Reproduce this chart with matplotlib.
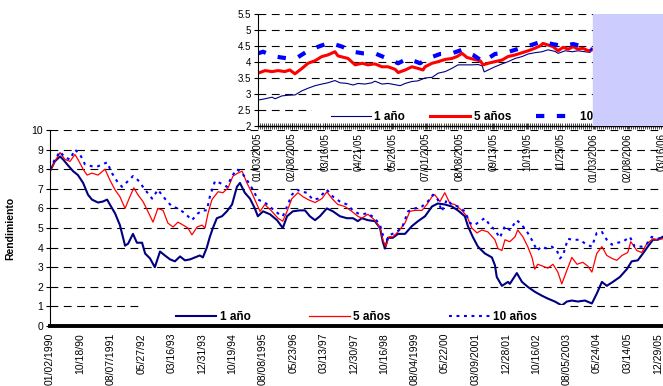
import numpy as np
import matplotlib
matplotlib.use('Agg')
import matplotlib.pyplot as plt
from matplotlib.path import Path
from matplotlib.ticker import MultipleLocator, FormatStrFormatter

plt.rcParams['font.family'] = ['Liberation Sans', 'DejaVu Sans']

# ---- main chart: x in tick-interval units (0 = 01/02/1990, 20 = 12/29/05)
main_ticks = ['01/02/1990', '10/18/90', '08/07/1991', '05/27/92', '03/16/93', '12/31/93',
              '10/19/94', '08/08/1995', '05/23/96', '03/13/97', '12/30/97', '10/16/98',
              '08/04/1999', '05/22/00', '03/09/2001', '12/28/01', '10/16/02', '08/05/2003',
              '05/24/04', '03/14/05', '12/29/05']

x_1y = [0.00, 0.16, 0.33, 0.43, 0.59, 0.76, 0.92, 1.09, 1.25, 1.38,
        1.58, 1.74, 1.88, 1.97, 2.14, 2.30, 2.47, 2.57, 2.73, 2.86,
        3.03, 3.13, 3.29, 3.45, 3.62, 3.78, 3.95, 4.11, 4.28, 4.44,
        4.61, 4.77, 4.93, 5.03, 5.16, 5.26, 5.36, 5.49, 5.66, 5.82,
        5.99, 6.15, 6.25, 6.41, 6.58, 6.74, 6.84, 7.01, 7.24, 7.47,
        7.66, 7.80, 7.99, 8.22, 8.39, 8.55, 8.72, 8.88, 9.11, 9.31,
        9.54, 9.77, 9.97, 10.13, 10.26, 10.46, 10.69, 10.86, 10.95, 11.02,
        11.12, 11.28, 11.45, 11.68, 11.91, 12.11, 12.34, 12.57, 12.76, 12.99,
        13.22, 13.42, 13.65, 13.75, 13.91, 14.08, 14.31, 14.54, 14.64, 14.70,
        14.87, 15.07, 15.13, 15.36, 15.53, 15.72, 15.95, 16.18, 16.38, 16.61,
        16.84, 17.01, 17.17, 17.37, 17.60, 17.83, 17.99, 18.16, 18.32, 18.52,
        18.75, 18.98, 19.14, 19.34, 19.51, 19.67, 19.84, 20.00, 20.16]
y_1y = [7.9, 8.4, 8.65, 8.5, 8.2, 7.9, 7.7, 7.3, 6.7, 6.45,
        6.3, 6.35, 6.45, 6.2, 5.75, 5.15, 4.1, 4.2, 4.7, 4.25,
        4.25, 3.7, 3.45, 3.0, 3.8, 3.6, 3.4, 3.3, 3.55, 3.35,
        3.4, 3.5, 3.6, 3.5, 4.0, 4.55, 5.0, 5.5, 5.6, 5.85,
        6.2, 7.1, 7.3, 6.8, 6.5, 6.0, 5.6, 5.85, 5.7, 5.4,
        5.0, 5.6, 5.85, 5.9, 5.9, 5.6, 5.4, 5.6, 6.0, 5.85,
        5.6, 5.5, 5.5, 5.35, 5.5, 5.4, 5.35, 5.0, 4.3, 3.95,
        4.5, 4.5, 4.7, 4.7, 5.1, 5.35, 5.6, 6.1, 6.25, 6.2,
        6.1, 5.9, 5.6, 5.1, 4.55, 4.05, 3.7, 3.5, 3.1, 2.5,
        2.05, 2.25, 2.15, 2.7, 2.25, 2.0, 1.75, 1.55, 1.4, 1.25,
        1.05, 1.25, 1.3, 1.25, 1.3, 1.15, 1.65, 2.25, 2.05, 2.25,
        2.5, 2.9, 3.3, 3.35, 3.7, 4.05, 4.4, 4.4, 4.55]

x_5y = [0.00, 0.16, 0.33, 0.49, 0.66, 0.82, 0.92, 1.09, 1.22, 1.38,
        1.58, 1.81, 1.97, 2.14, 2.30, 2.47, 2.63, 2.76, 2.89, 3.06,
        3.22, 3.39, 3.55, 3.72, 3.88, 4.05, 4.21, 4.38, 4.54, 4.67,
        4.84, 5.00, 5.10, 5.20, 5.33, 5.53, 5.69, 5.86, 6.02, 6.18,
        6.32, 6.48, 6.64, 6.81, 6.91, 7.07, 7.30, 7.50, 7.66, 7.80,
        7.96, 8.16, 8.32, 8.49, 8.72, 8.95, 9.11, 9.28, 9.47, 9.70,
        9.93, 10.13, 10.26, 10.46, 10.69, 10.86, 10.95, 11.05, 11.15, 11.28,
        11.45, 11.68, 11.84, 12.01, 12.24, 12.40, 12.57, 12.66, 12.83, 12.99,
        13.16, 13.32, 13.55, 13.72, 13.88, 14.05, 14.21, 14.41, 14.64, 14.74,
        14.87, 14.97, 15.13, 15.30, 15.39, 15.56, 15.72, 15.86, 15.95, 16.05,
        16.22, 16.38, 16.55, 16.71, 16.84, 17.01, 17.17, 17.34, 17.53, 17.70,
        17.83, 17.99, 18.16, 18.32, 18.49, 18.65, 18.82, 19.01, 19.11, 19.31,
        19.47, 19.64, 19.84, 20.00, 20.16]
y_5y = [7.9, 8.4, 8.85, 8.5, 8.4, 8.75, 8.5, 8.0, 7.7, 7.8,
        7.7, 8.0, 7.45, 6.95, 6.6, 6.0, 6.6, 7.05, 6.7, 6.35,
        5.85, 5.3, 6.0, 5.9, 5.25, 5.05, 5.3, 5.15, 5.0, 4.65,
        5.05, 5.15, 5.0, 5.75, 6.45, 6.85, 6.8, 7.05, 7.65, 7.8,
        7.9, 7.3, 6.8, 6.2, 5.85, 6.2, 5.85, 5.5, 5.35, 5.85,
        6.5, 6.8, 6.6, 6.45, 6.3, 6.5, 6.85, 6.5, 6.2, 6.1,
        5.85, 5.6, 5.5, 5.7, 5.4, 5.0, 4.4, 4.05, 4.55, 4.55,
        4.8, 5.25, 5.85, 5.9, 5.9, 6.2, 6.6, 6.7, 6.35, 6.8,
        6.25, 6.2, 5.9, 5.6, 5.0, 4.75, 4.9, 4.8, 4.4, 3.95,
        3.85, 4.4, 4.3, 4.55, 4.9, 4.55, 4.05, 3.5, 2.9, 3.15,
        3.05, 2.95, 3.15, 2.75, 2.15, 2.85, 3.5, 3.15, 3.25, 3.05,
        2.75, 3.7, 4.05, 3.6, 3.45, 3.35, 3.6, 3.75, 4.3, 3.85,
        3.75, 4.2, 4.45, 4.4, 4.45]

x_10y = [0.00, 0.16, 0.33, 0.49, 0.66, 0.82, 0.99, 1.15, 1.38, 1.58,
         1.88, 2.04, 2.20, 2.37, 2.57, 2.73, 2.89, 3.13, 3.36, 3.55,
         3.78, 4.01, 4.21, 4.44, 4.67, 4.87, 5.03, 5.16, 5.26, 5.43,
         5.59, 5.82, 5.99, 6.15, 6.32, 6.48, 6.68, 6.84, 7.07, 7.30,
         7.50, 7.66, 7.80, 7.96, 8.13, 8.29, 8.45, 8.65, 8.82, 9.11,
         9.31, 9.54, 9.77, 9.97, 10.13, 10.26, 10.46, 10.69, 10.86, 10.95,
         11.09, 11.18, 11.35, 11.58, 11.78, 12.01, 12.24, 12.43, 12.60, 12.76,
         12.89, 13.06, 13.22, 13.42, 13.65, 13.82, 13.98, 14.14, 14.31, 14.47,
         14.64, 14.80, 14.97, 15.13, 15.36, 15.53, 15.72, 15.89, 16.02, 16.18,
         16.35, 16.51, 16.68, 16.78, 16.88, 17.04, 17.20, 17.43, 17.66, 17.83,
         17.99, 18.16, 18.32, 18.49, 18.68, 18.85, 19.08, 19.24, 19.47, 19.64,
         19.80, 20.00, 20.16]
y_10y = [8.0, 8.5, 8.9, 8.6, 8.5, 9.0, 8.75, 8.25, 8.15, 8.15,
         8.35, 7.8, 7.4, 7.1, 7.4, 7.65, 7.45, 6.95, 6.5, 6.95,
         6.5, 6.1, 6.0, 5.75, 5.4, 5.75, 5.9, 5.9, 6.6, 7.4,
         7.3, 7.1, 7.65, 8.0, 7.8, 7.45, 6.95, 6.45, 6.3, 6.0,
         5.75, 5.6, 6.1, 6.7, 6.95, 6.85, 6.8, 6.45, 6.5, 6.95,
         6.6, 6.35, 6.2, 5.9, 5.75, 5.7, 5.75, 5.5, 5.15, 4.65,
         4.4, 4.65, 4.75, 5.0, 5.85, 6.0, 6.1, 6.35, 6.7, 6.45,
         5.85, 6.45, 6.2, 6.1, 5.85, 5.25, 5.15, 5.35, 5.5, 5.15,
         4.9, 4.5, 5.1, 4.9, 5.4, 5.15, 4.75, 4.3, 3.85, 4.05,
         3.95, 4.05, 3.85, 3.45, 3.6, 4.45, 4.4, 4.4, 4.15, 4.05,
         4.75, 4.8, 4.4, 4.15, 4.25, 4.3, 4.55, 4.05, 4.05, 4.2,
         4.55, 4.45, 4.55]

# ---- inset: 2005, x in tick-interval units (0 = 01/03/2005)
inset_ticks = ['01/03/2005', '02/08/2005', '03/16/05', '04/21/05', '05/26/05', '07/01/2005',
               '08/08/2005', '09/13/05', '10/19/05', '11/25/05', '01/03/2006', '02/08/2006',
               '03/16/06']

xi_1y = [0.00, 0.21, 0.42, 0.51, 0.71, 0.89, 1.10, 1.31, 1.49, 1.70,
         1.90, 2.08, 2.29, 2.44, 2.65, 2.83, 2.98, 3.18, 3.39, 3.48,
         3.69, 3.87, 4.08, 4.23, 4.38, 4.58, 4.76, 4.97, 5.18, 5.36,
         5.57, 5.77, 5.95, 6.16, 6.37, 6.55, 6.67, 6.73, 6.85, 7.05,
         7.26, 7.44, 7.65, 7.86, 8.04, 8.24, 8.45, 8.63, 8.84, 8.93,
         9.14, 9.35, 9.52, 9.73, 9.88]
yi_1y = [2.81, 2.85, 2.90, 2.85, 2.94, 2.96, 2.97, 3.10, 3.18, 3.26,
         3.31, 3.35, 3.42, 3.35, 3.33, 3.28, 3.33, 3.31, 3.35, 3.40,
         3.31, 3.33, 3.29, 3.26, 3.33, 3.39, 3.41, 3.50, 3.52, 3.65,
         3.70, 3.80, 3.91, 3.91, 3.91, 3.92, 3.88, 3.69, 3.75, 3.85,
         3.94, 4.01, 4.11, 4.17, 4.25, 4.29, 4.32, 4.38, 4.33, 4.27,
         4.35, 4.32, 4.35, 4.32, 4.30]

xi_5y = [0.00, 0.21, 0.42, 0.60, 0.80, 0.95, 1.10, 1.31, 1.49, 1.70,
         1.90, 2.08, 2.29, 2.38, 2.53, 2.68, 2.89, 3.10, 3.27, 3.48,
         3.69, 3.87, 4.08, 4.17, 4.38, 4.58, 4.76, 4.91, 4.97, 5.18,
         5.36, 5.57, 5.77, 5.92, 6.07, 6.22, 6.40, 6.61, 6.70, 6.85,
         7.05, 7.26, 7.44, 7.65, 7.86, 8.04, 8.24, 8.39, 8.48, 8.63,
         8.78, 8.93, 9.08, 9.23, 9.38, 9.52, 9.67, 9.82, 9.94]
yi_5y = [3.65, 3.73, 3.70, 3.73, 3.70, 3.75, 3.63, 3.80, 3.96, 4.04,
         4.17, 4.22, 4.32, 4.19, 4.15, 4.11, 3.91, 3.96, 3.91, 3.94,
         3.85, 3.85, 3.77, 3.67, 3.75, 3.85, 3.80, 3.75, 3.85, 3.96,
         4.01, 4.08, 4.11, 4.17, 4.27, 4.14, 4.09, 4.04, 3.91, 3.96,
         4.01, 4.06, 4.17, 4.22, 4.29, 4.35, 4.43, 4.50, 4.58, 4.53,
         4.48, 4.35, 4.46, 4.40, 4.48, 4.40, 4.43, 4.35, 4.38]

xi_10y = [0.00, 0.15, 0.51, 0.89, 1.19, 1.49, 1.85, 2.14, 2.50, 2.83,
          3.13, 3.48, 3.84, 4.17, 4.46, 4.82, 5.06, 5.42, 5.77, 6.07,
          6.40, 6.70, 7.05, 7.41, 7.80, 8.13, 8.45, 8.75, 9.08, 9.38,
          9.67, 9.94]
yi_10y = [4.27, 4.32, 4.17, 4.11, 4.15, 4.35, 4.50, 4.60, 4.48, 4.32,
          4.27, 4.27, 4.11, 3.96, 4.11, 3.96, 4.11, 4.25, 4.27, 4.38,
          4.22, 4.01, 4.25, 4.30, 4.43, 4.53, 4.64, 4.56, 4.50, 4.56,
          4.48, 4.38]

labels = ['1 año', '5 años', '10 años']
grid_style = dict(color='black', linestyle=(0, (7, 5)), linewidth=0.8)


def wide_box(padx):
    # legend frame that is padded sideways only (Excel legend box is wider than its entries)
    def box(x0, y0, width, height, mutation_size):
        p = padx * mutation_size
        return Path.unit_rectangle().transformed(
            matplotlib.transforms.Affine2D().scale(width + 2 * p, height).translate(x0 - p, y0))
    return box


fig = plt.figure(figsize=(6.63, 3.86), dpi=100)

# main chart
ax = fig.add_axes([0.0754, 0.1554, 0.9246, 0.5078])
ax.plot(x_1y, y_1y, color='#000080', lw=1.5, label=labels[0])
ax.plot(x_5y, y_5y, color='#ff0000', lw=0.9, label=labels[1])
ax.plot(x_10y, y_10y, color='#0000ff', lw=1.5, linestyle=(0, (1.4, 2.2)), label=labels[2])
ax.set_xlim(0, 20.17)
ax.set_ylim(0, 10)
ax.set_yticks(range(11))
ax.yaxis.grid(True, **grid_style)
ax.set_axisbelow(True)
ax.set_xticks(range(len(main_ticks)))
ax.set_xticklabels(main_ticks, rotation=90, fontsize=7.5)
ax.tick_params(axis='x', length=0, pad=5)
ax.tick_params(axis='y', length=3, width=0.8, labelsize=7.5, pad=2)
ax.spines['top'].set_visible(False)
ax.spines['right'].set_visible(False)
ax.spines['left'].set_linewidth(0.8)
ax.spines['bottom'].set_linewidth(2.8)
ax.spines['bottom'].set_zorder(10)
ax.set_ylabel('Rendimiento', fontsize=7.5, fontweight='bold')
ax.yaxis.set_label_coords(-0.057, 0.5)
leg = ax.legend(ncol=3, loc='center', bbox_to_anchor=(0.5, 0.046), frameon=True,
                facecolor='white', edgecolor='none', framealpha=1, fancybox=False,
                prop={'weight': 'bold', 'size': 8.5}, handlelength=3.4,
                columnspacing=5.0, handletextpad=0.3, borderpad=0.5)
leg.get_frame().set_boxstyle(wide_box(2.3))

# inset chart
ax2 = fig.add_axes([0.3891, 0.6736, 0.6109, 0.2902])
ax2.plot(xi_1y, yi_1y, color='#000080', lw=0.8, label=labels[0])
ax2.plot(xi_5y, yi_5y, color='#ff0000', lw=2.2, label=labels[1])
ax2.plot(xi_10y, yi_10y, color='#0000ff', lw=3, linestyle=(0, (2, 3)), label=labels[2])
ax2.set_xlim(0, 12.05)
ax2.set_ylim(2, 5.5)
ax2.set_yticks(np.arange(2, 5.51, 0.5))
ax2.yaxis.set_major_formatter(FormatStrFormatter('%g'))
ax2.yaxis.grid(True, **grid_style)
ax2.set_axisbelow(True)
ax2.set_xticks(range(len(inset_ticks)))
ax2.set_xticklabels(inset_ticks, rotation=90, fontsize=7)
ax2.xaxis.set_minor_locator(MultipleLocator(0.06))
ax2.tick_params(axis='x', which='both', length=4, width=0.5, direction='inout', pad=3)
ax2.tick_params(axis='y', length=3, width=0.8, labelsize=7, pad=2)
ax2.spines['top'].set_visible(False)
ax2.spines['right'].set_visible(False)
ax2.spines['left'].set_linewidth(0.8)
ax2.spines['bottom'].set_linewidth(1.0)
ax2.spines['bottom'].set_zorder(8)
ax2.xaxis.set_zorder(8)
leg2 = ax2.legend(ncol=3, loc='center', bbox_to_anchor=(0.541, 0.08), frameon=True,
                  facecolor='white', edgecolor='none', framealpha=1, fancybox=False,
                  prop={'weight': 'bold', 'size': 8.5}, handlelength=3.4,
                  columnspacing=2.1, handletextpad=0.3, borderpad=0.3)
leg2.get_frame().set_boxstyle(wide_box(1.3))
# shaded block over the right end of the inset
ax2.axvspan(9.97, 12.05, color='#ccccff', zorder=10)

fig.savefig('out.png', dpi=100)
